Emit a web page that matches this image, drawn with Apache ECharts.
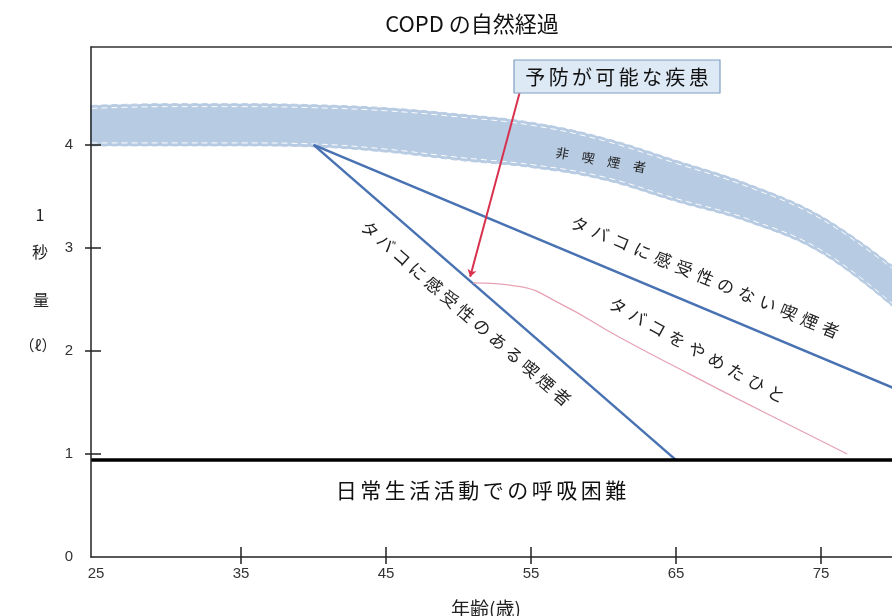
<!DOCTYPE html>
<html><head><meta charset="utf-8">
<script src="https://cdn.jsdelivr.net/npm/echarts@6/dist/echarts.min.js"></script>
<style>html,body{margin:0;padding:0;background:#fff}#c{width:892px;height:616px}</style>
</head><body><div id="c"></div>
<script>
// ---- data ----
const xTickLabels = [25, 35, 45, 55, 65, 75];
const xTickMarks = [35, 45, 55, 65, 75];
const yTickLabels = [0, 1, 2, 3, 4];
const yTickMarks = [1, 2, 3, 4];

const bandAges  = [24, 30, 35, 40, 45, 50, 55, 60, 65, 70, 75, 80];
const bandUpper = [4.38, 4.40, 4.40, 4.39, 4.36, 4.30, 4.22, 4.07, 3.85, 3.62, 3.31, 2.82];
const bandLower = [3.99, 3.99, 3.99, 3.98, 3.93, 3.85, 3.78, 3.66, 3.45, 3.25, 2.95, 2.42];

const sensitiveAges = [40, 65];
const sensitiveVals = [4.0, 0.94];
const insensitiveAges = [40, 80];
const insensitiveVals = [4.0, 1.64];
const quitAges = [51, 54, 57, 61, 66, 71, 76.8];
const quitVals = [2.66, 2.63, 2.46, 2.14, 1.77, 1.41, 1.00];
const arrowFrom = [54.2, 4.50];
const arrowTo = [50.8, 2.72];
const dyspneaLevel = 0.94;

// ---- chart ----
const JP = '"Noto Sans CJK JP", sans-serif';
const NUM = '"Liberation Sans", sans-serif';
const zip = (a, b) => a.map((v, i) => [v, b[i]]);
const sp = (s, g) => Array.from(s).join(g);
const BAND = '#b7cbe3';
const BLUE = '#4872b2';
const X_MIN = 24.65, X_MAX = 79.89, Y_MIN = 0, Y_MAX = 4.95;

const chart = echarts.init(document.getElementById('c'), null, {renderer: 'canvas'});

const baseX = {type: 'value', min: X_MIN, max: X_MAX, z: 5, splitLine: {show: false}};
const baseY = {type: 'value', min: Y_MIN, max: Y_MAX, z: 5, splitLine: {show: false}};

function rtext(x, y, deg, text, size, extra) {
  return Object.assign({
    type: 'text', x: x, y: y, z: 100, rotation: -deg * Math.PI / 180,
    style: {text: text, font: size + 'px ' + JP, fill: '#222', align: 'center', verticalAlign: 'middle'}
  }, extra || {});
}

chart.setOption({
  animation: false,
  backgroundColor: '#fff',
  grid: {left: 91, right: 0, top: 47, bottom: 59, containLabel: false},
  xAxis: [
    Object.assign({}, baseX, {
      position: 'bottom',
      axisLine: {show: true, onZero: false, lineStyle: {color: '#222', width: 1.5}},
      axisTick: {show: true, customValues: xTickMarks, length: 7, lineStyle: {color: '#222', width: 1.5}},
      axisLabel: {customValues: xTickLabels, margin: 9, fontSize: 15, color: '#333', fontFamily: NUM}
    }),
    Object.assign({}, baseX, {
      position: 'bottom',
      axisLine: {show: false, onZero: false},
      axisTick: {show: true, inside: true, customValues: xTickMarks, length: 10, lineStyle: {color: '#222', width: 1.5}},
      axisLabel: {show: false}
    }),
    Object.assign({}, baseX, {
      position: 'top',
      axisLine: {show: true, onZero: false, lineStyle: {color: '#333', width: 1.5}},
      axisTick: {show: false}, axisLabel: {show: false}
    })
  ],
  yAxis: [
    Object.assign({}, baseY, {
      position: 'left',
      axisLine: {show: true, onZero: false, lineStyle: {color: '#222', width: 1.5}},
      axisTick: {show: true, customValues: yTickMarks, length: 6, lineStyle: {color: '#222', width: 1.5}},
      axisLabel: {customValues: yTickLabels, margin: 18, fontSize: 15, color: '#333', fontFamily: NUM}
    }),
    Object.assign({}, baseY, {
      position: 'left',
      axisLine: {show: false, onZero: false},
      axisTick: {show: true, inside: true, customValues: yTickMarks, length: 10, lineStyle: {color: '#222', width: 1.5}},
      axisLabel: {show: false}
    })
  ],
  series: [
    {
      name: '非喫煙者 上限', type: 'line', data: zip(bandAges, bandUpper), smooth: 0.4,
      symbol: 'none', silent: true, z: 1,
      lineStyle: {color: BAND, width: 1, type: [6, 4], shadowColor: 'rgba(255,255,255,0.95)', shadowOffsetY: 3, shadowBlur: 0},
      areaStyle: {color: BAND, opacity: 1}
    },
    {
      name: '非喫煙者 下限', type: 'line', data: zip(bandAges, bandLower), smooth: 0.4,
      symbol: 'none', silent: true, z: 1,
      lineStyle: {color: BAND, width: 1, type: [6, 4], shadowColor: 'rgba(255,255,255,0.95)', shadowOffsetY: -3, shadowBlur: 0},
      areaStyle: {color: '#ffffff', opacity: 1}
    },
    {
      name: 'タバコに感受性のある喫煙者', type: 'line', data: zip(sensitiveAges, sensitiveVals),
      symbol: 'none', silent: true, z: 3,
      lineStyle: {color: BLUE, width: 2.5},
      markLine: {
        silent: true, symbol: 'none', label: {show: false}, z: 4,
        lineStyle: {color: '#000', width: 3.5, type: 'solid'},
        data: [{yAxis: dyspneaLevel}]
      }
    },
    {
      name: 'タバコに感受性のない喫煙者', type: 'line', data: zip(insensitiveAges, insensitiveVals),
      symbol: 'none', silent: true, z: 3,
      lineStyle: {color: BLUE, width: 2.5}
    },
    {
      name: 'タバコをやめたひと', type: 'line', data: zip(quitAges, quitVals), smooth: 0.5,
      symbol: 'none', silent: true, z: 3,
      lineStyle: {color: '#e7a2b4', width: 1.3},
      markLine: {
        silent: true, symbol: ['none', 'arrow'], symbolSize: 7, label: {show: false}, z: 6,
        lineStyle: {color: '#d8314e', width: 2, type: 'solid'},
        data: [[{coord: arrowFrom}, {coord: arrowTo}]]
      }
    }
  ],
  graphic: {elements: [
    {type: 'text', x: 472, y: 24, z: 100, style: {text: 'COPD の自然経過', font: '22px ' + JP, fill: '#111', align: 'center', verticalAlign: 'middle'}},
    {type: 'rect', z: 99, shape: {x: 514, y: 60, width: 206, height: 33}, style: {fill: '#dde9f5', stroke: '#7f9fc4', lineWidth: 1.2}},
    {type: 'text', x: 617, y: 77, z: 100, style: {text: sp('予防が可能な疾患', '\u2006'), font: '20px ' + JP, fill: '#111', align: 'center', verticalAlign: 'middle'}},
    rtext(601, 160, 10, sp('非喫煙者', '\u3000'), 13),
    rtext(705, 277, 22.7, sp('タバコに感受性のない喫煙者', '\u2004'), 17),
    rtext(697, 350, 29, sp('タバコをやめたひと', '\u2004'), 17),
    rtext(466, 313, 41, sp('タバコに感受性のある喫煙者', '\u2005'), 17),
    {type: 'text', x: 481, y: 490, z: 100, style: {text: sp('日常生活活動での呼吸困難', '\u2006'), font: '21px ' + JP, fill: '#111', align: 'center', verticalAlign: 'middle'}},
    {type: 'text', x: 40, y: 215, z: 100, style: {text: '1', font: '16px ' + JP, fill: '#222', align: 'center', verticalAlign: 'middle'}},
    {type: 'text', x: 40, y: 252, z: 100, style: {text: '秒', font: '16px ' + JP, fill: '#222', align: 'center', verticalAlign: 'middle'}},
    {type: 'text', x: 41, y: 300, z: 100, style: {text: '量', font: '16px ' + JP, fill: '#222', align: 'center', verticalAlign: 'middle'}},
    {type: 'text', x: 38, y: 345, z: 100, style: {text: '（ℓ）', font: '15px ' + JP, fill: '#222', align: 'center', verticalAlign: 'middle'}},
    {type: 'text', x: 486, y: 609, z: 100, style: {text: '年齢(歳)', font: '19px ' + JP, fill: '#222', align: 'center', verticalAlign: 'middle'}}
  ]}
});
</script>
</body></html>
